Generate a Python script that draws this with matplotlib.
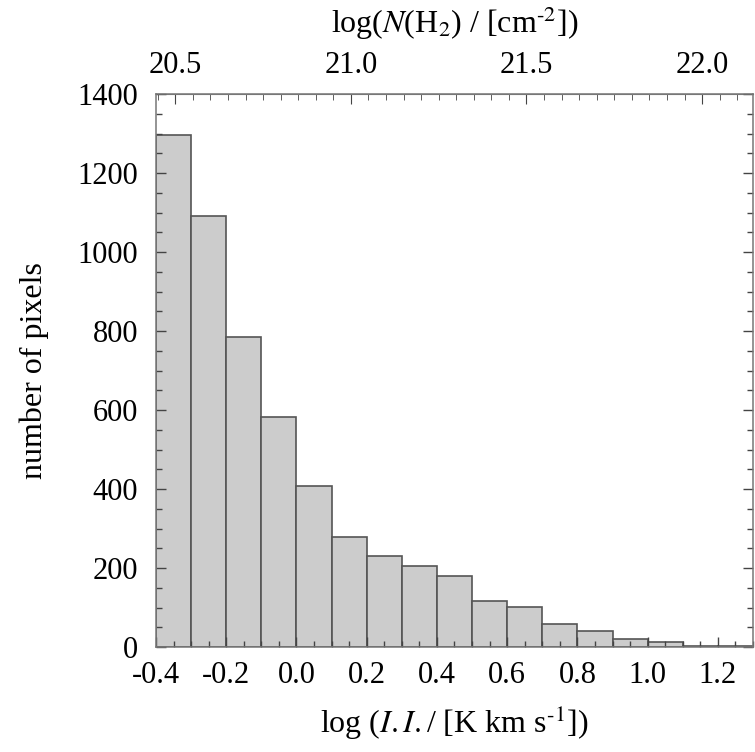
import matplotlib
matplotlib.use("Agg")
import matplotlib.pyplot as plt
from matplotlib.ticker import MultipleLocator
import numpy as np

plt.rcParams['font.family'] = ['Liberation Serif', 'DejaVu Serif']
plt.rcParams['mathtext.fontset'] = 'stix'

# histogram of log integrated intensity, bins of 0.1 starting at -0.4
bin_start = -0.4
bin_width = 0.1
counts = [1297, 1092, 785, 582, 408, 278, 231, 205, 180,
          117, 101, 58, 41, 20, 12, 3, 3]

# top axis: log N(H2) = log I.I. + offset
nh2_offset = 20.845
nh2_ticks = [20.5, 21.0, 21.5, 22.0]

edges = bin_start + bin_width * np.arange(len(counts) + 1)

fig = plt.figure(figsize=(7.55, 7.52), dpi=100)
ax = fig.add_axes([156 / 755, 1 - 647 / 752, 597 / 755, 553 / 752])

ax.bar(edges[:-1], counts, width=bin_width, align='edge',
       color='#cccccc', edgecolor='#555555', linewidth=1.2)

ax.set_xlim(edges[0], edges[-1])
ax.set_ylim(0, 1400)

ax.xaxis.set_major_locator(MultipleLocator(0.2))
ax.xaxis.set_minor_locator(MultipleLocator(0.05))
ax.yaxis.set_major_locator(MultipleLocator(200))
ax.yaxis.set_minor_locator(MultipleLocator(50))
ax.xaxis.set_major_formatter(plt.FuncFormatter(lambda v, p: "%.1f" % v))

ax.tick_params(which='both', direction='in', right=True, labelsize=22,
               color='#444444')
ax.tick_params(which='major', length=7, width=1)
ax.tick_params(which='minor', length=4, width=1)
ax.tick_params(axis='x', pad=10)
ax.tick_params(axis='y', pad=13)

for sp in ax.spines.values():
    sp.set_color('#777777')
    sp.set_linewidth(1.1)

secax = ax.secondary_xaxis('top', functions=(lambda x: x + nh2_offset,
                                             lambda n: n - nh2_offset))
secax.set_xticks(nh2_ticks)
secax.xaxis.set_minor_locator(MultipleLocator(0.05))
secax.xaxis.set_major_formatter(plt.FuncFormatter(lambda v, p: "%.1f" % v))
secax.tick_params(which='both', direction='in', labelsize=22, color='#444444')
secax.tick_params(which='major', length=7, pad=10)
secax.tick_params(which='minor', length=4)
secax.spines['top'].set_color('#777777')
secax.set_xlabel(r"log($N$(H$_2$) / [cm$^{\text{-2}}$])", fontsize=23, labelpad=13)

ax.set_xlabel(r"log ($I.I.$/ [K km s$^{\text{-1}}$])", fontsize=23, labelpad=10)
ax.set_ylabel("number of pixels", fontsize=23, labelpad=20)

fig.savefig("out.png", dpi=100)
